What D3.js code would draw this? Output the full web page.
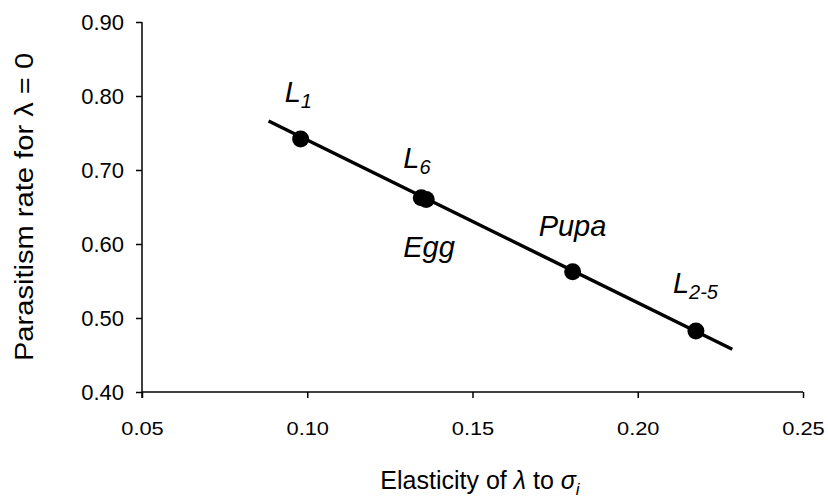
<!DOCTYPE html>
<html>
<head>
<meta charset="utf-8">
<script src="https://cdn.jsdelivr.net/npm/d3@7"></script>
<style>
    body { margin: 0; background: #fff; }
    svg { display: block; font-family: Arial, "Liberation Sans", sans-serif; }
</style>
</head>
<body>
<svg id="chart"></svg>
<script>
// Set data
const stages = ["L1", "L6", "Egg", "Pupa", "L2-5"];
const elasticity = [0.098, 0.1345, 0.136, 0.1803, 0.2176];
const parasitism = [0.742, 0.6625, 0.660, 0.5625, 0.4825];

const trendX = [0.0883, 0.2286];
const trendY = [0.7662, 0.4577];

const xTicks = [0.05, 0.10, 0.15, 0.20, 0.25];
const yTicks = [0.40, 0.50, 0.60, 0.70, 0.80, 0.90];

// label text parts: main letter + subscript
const labelMain = ["L", "L", "Egg", "Pupa", "L"];
const labelSub = ["1", "6", "", "", "2-5"];


// Set width and height
const width = 828;
const height = 500;
const plot = {left: 142, right: 803, top: 22, bottom: 392};

// label placement relative to the point (layout only)
const labelOffset = {
    "L1": [-16, -37],
    "L6": [-18, -30],
    "Egg": [-23, 57],
    "Pupa": [-34, -36],
    "L2-5": [-23, -38]
};

const svg = d3.select("#chart")
    .attr("width", width)
    .attr("height", height);

const x = d3.scaleLinear().domain([0.05, 0.25]).range([plot.left, plot.right]);
const y = d3.scaleLinear().domain([0.40, 0.90]).range([plot.bottom, plot.top]);


// axes
const xAxis = svg.append("g")
    .attr("transform", `translate(0,${plot.bottom})`)
    .call(d3.axisBottom(x).tickValues(xTicks).tickFormat(d3.format(".2f")).tickSize(6).tickPadding(24).tickSizeOuter(0));

const yAxis = svg.append("g")
    .attr("transform", `translate(${plot.left},0)`)
    .call(d3.axisLeft(y).tickValues(yTicks).tickFormat(d3.format(".2f")).tickSize(6).tickPadding(12).tickSizeOuter(0));

xAxis.select(".domain").attr("stroke", "#000").attr("stroke-width", 1.5)
    .attr("d", `M${plot.left},0H${plot.right}`);
yAxis.select(".domain").attr("stroke", "#000").attr("stroke-width", 1.5)
    .attr("d", `M0,${plot.top}V${plot.bottom + 6}`);
xAxis.selectAll(".tick line").attr("stroke", "#000").attr("stroke-width", 1.5);
yAxis.selectAll(".tick line").attr("stroke", "#000").attr("stroke-width", 1.5);
// x tick labels are a bit wider in the original
xAxis.selectAll(".tick text").attr("fill", "#000")
    .attr("transform", "scale(1.15,1)")
    .style("font-family", "Arial, 'Liberation Sans', sans-serif").style("font-size", "19px");
yAxis.selectAll(".tick text").attr("fill", "#000")
    .style("font-family", "Arial, 'Liberation Sans', sans-serif").style("font-size", "22px");


// axis titles
const xTitle = svg.append("text")
    .attr("x", 480).attr("y", 489)
    .attr("text-anchor", "middle")
    .style("font-size", "25px");
xTitle.append("tspan").text("Elasticity of ");
xTitle.append("tspan").style("font-style", "italic").text("λ");
xTitle.append("tspan").text(" to ");
xTitle.append("tspan").style("font-style", "italic").text("σ");
xTitle.append("tspan").style("font-style", "italic").style("font-size", "17px").attr("dy", 6).text("i");

svg.append("text")
    .attr("transform", "translate(33,207) rotate(-90) scale(1.12,1)")
    .attr("text-anchor", "middle")
    .style("font-size", "26px")
    .text("Parasitism rate for λ = 0");


// trend line
const trend = trendX.map((d, i) => [d, trendY[i]]);
svg.append("path")
    .datum(trend)
    .attr("d", d3.line().x(d => x(d[0])).y(d => y(d[1])))
    .attr("stroke", "#000")
    .attr("stroke-width", 3.5)
    .attr("fill", "none");


// points
const points = stages.map((s, i) => ({stage: s, ex: elasticity[i], pr: parasitism[i], main: labelMain[i], sub: labelSub[i]}));

svg.selectAll("circle.pt")
    .data(points)
    .join("circle")
    .attr("class", "pt")
    .attr("cx", d => x(d.ex))
    .attr("cy", d => y(d.pr))
    .attr("r", 8.5)
    .attr("fill", "#000");


// labels
const labels = svg.selectAll("text.lab")
    .data(points)
    .join("text")
    .attr("class", "lab")
    .attr("x", d => x(d.ex) + labelOffset[d.stage][0])
    .attr("y", d => y(d.pr) + labelOffset[d.stage][1])
    .style("font-size", "29px")
    .style("font-style", "italic");

labels.append("tspan").text(d => d.main);
labels.filter(d => d.sub !== "")
    .append("tspan")
    .attr("dy", 6)
    .style("font-size", "20px")
    .text(d => d.sub);
</script>
</body>
</html>
